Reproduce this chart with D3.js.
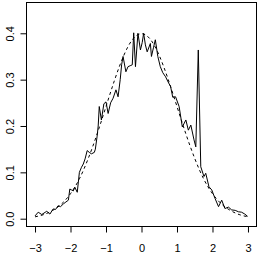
<!DOCTYPE html>
<html>
<head>
<meta charset="utf-8">
<script src="https://cdn.jsdelivr.net/npm/d3@7/dist/d3.min.js"></script>
<style>
  html, body { margin: 0; padding: 0; background: #fff; }
  svg { display: block; }
  text { font-family: "Liberation Sans", Arial, sans-serif; font-size: 11px; fill: #000; }
</style>
</head>
<body>
<svg id="chart" width="259" height="254"></svg>
<script>
// Observed (noisy) density estimate
const obsX = [-3.00,-2.91,-2.81,-2.67,-2.58,-2.49,-2.42,-2.35,-2.28,-2.20,-2.13,-2.06,-2.02,-1.97,-1.92,-1.88,-1.81,-1.75,-1.69,-1.64,-1.59,-1.53,-1.47,-1.41,-1.33,-1.30,-1.25,-1.22,-1.19,-1.13,-1.06,-1.00,-0.94,-0.87,-0.80,-0.72,-0.66,-0.60,-0.56,-0.52,-0.44,-0.38,-0.32,-0.26,-0.22,-0.17,-0.10,-0.03,0.02,0.06,0.11,0.16,0.25,0.28,0.34,0.39,0.46,0.53,0.60,0.68,0.75,0.82,0.88,0.96,1.06,1.15,1.25,1.32,1.39,1.48,1.53,1.60,1.67,1.76,1.81,1.90,1.98,2.07,2.17,2.26,2.35,2.45,2.54,2.64,2.73,2.82,2.91,2.99];
const obsY = [0.006,0.014,0.009,0.016,0.010,0.021,0.020,0.028,0.026,0.032,0.036,0.040,0.064,0.062,0.060,0.068,0.057,0.100,0.111,0.118,0.129,0.147,0.143,0.140,0.143,0.150,0.178,0.200,0.242,0.213,0.248,0.252,0.227,0.250,0.260,0.278,0.263,0.300,0.332,0.350,0.317,0.328,0.330,0.332,0.401,0.328,0.400,0.364,0.380,0.400,0.375,0.360,0.378,0.350,0.370,0.386,0.350,0.328,0.315,0.306,0.295,0.285,0.262,0.263,0.242,0.198,0.213,0.191,0.202,0.170,0.155,0.364,0.112,0.091,0.098,0.069,0.062,0.044,0.026,0.040,0.022,0.025,0.019,0.018,0.015,0.014,0.010,0.005];

// Reference curve (dashed), read at 0.25 steps
const refX = [-3,-2.75,-2.5,-2.25,-2,-1.75,-1.5,-1.25,-1,-0.75,-0.5,-0.25,0,0.25,0.5,0.75,1,1.25,1.5,1.75,2,2.25,2.5,2.75,3];
const refY = [0.004,0.009,0.018,0.032,0.054,0.086,0.130,0.183,0.242,0.301,0.352,0.387,0.399,0.387,0.352,0.301,0.242,0.183,0.130,0.086,0.054,0.032,0.018,0.009,0.004];

const xTicks = [-3,-2,-1,0,1,2,3];
const yTicks = [0.0,0.1,0.2,0.3,0.4];

const svg = d3.select("#chart");
const mLeft = 26.5, mRight = 256.5, mTop = 2.5, mBottom = 226.5;

const x = d3.scaleLinear().domain([-3.24, 3.24]).range([mLeft, mRight]);
const y = d3.scaleLinear().domain([-0.0179, 0.4675]).range([227, 2]);

// reference dashed curve
const refData = refX.map((v, i) => [v, refY[i]]);
svg.append("path")
  .datum(refData)
  .attr("fill", "none")
  .attr("stroke", "#000")
  .attr("stroke-width", 1)
  .attr("stroke-dasharray", "3,3")
  .attr("d", d3.line().x(d => x(d[0])).y(d => y(d[1])).curve(d3.curveNatural));

// observed solid line
const obsData = obsX.map((v, i) => [v, obsY[i]]);
svg.append("path")
  .datum(obsData)
  .attr("fill", "none")
  .attr("stroke", "#000")
  .attr("stroke-width", 1)
  .attr("d", d3.line().x(d => x(d[0])).y(d => y(d[1])));

// box
svg.append("rect")
  .attr("x", mLeft).attr("y", mTop)
  .attr("width", mRight - mLeft).attr("height", mBottom - mTop)
  .attr("fill", "none").attr("stroke", "#000").attr("stroke-width", 1);

// x axis
const xAxis = d3.axisBottom(x).tickValues(xTicks).tickSize(6).tickPadding(11.5)
  .tickFormat(d3.format("d"));
const gx = svg.append("g").attr("transform", `translate(0,${mBottom})`).call(xAxis);
gx.select(".domain").remove();
gx.selectAll("text").attr("font-family", "Liberation Sans, Arial, sans-serif").attr("font-size", 11).attr("fill", "#000");
gx.selectAll("line").attr("stroke", "#000");

// y axis
const yAxis = d3.axisLeft(y).tickValues(yTicks).tickSize(6).tickFormat(d3.format(".1f"));
const gy = svg.append("g").attr("transform", `translate(${mLeft},0)`).call(yAxis);
gy.select(".domain").remove();
gy.selectAll("line").attr("stroke", "#000");
gy.selectAll("text")
  .attr("font-family", "Liberation Sans, Arial, sans-serif").attr("font-size", 11).attr("fill", "#000")
  .attr("x", null).attr("dy", null)
  .attr("text-anchor", "middle")
  .attr("transform", "translate(-12.5,0) rotate(-90)");
</script>
</body>
</html>
